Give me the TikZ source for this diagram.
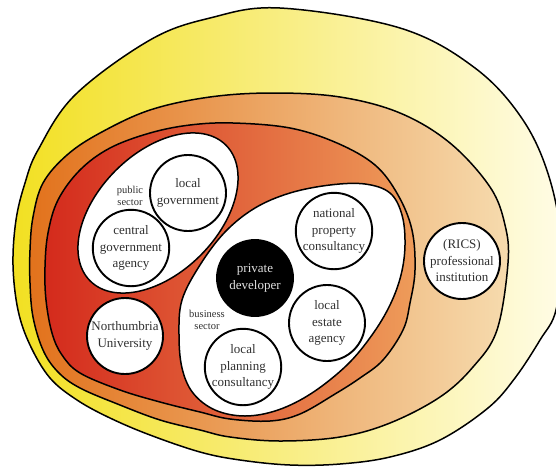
\documentclass[tikz,border=0pt]{standalone}
\usepackage{fontspec}
\setmainfont{Liberation Serif}
\definecolor{yA}{HTML}{F2E022}
\definecolor{yB}{HTML}{F8EE98}
\definecolor{yC}{HTML}{FFFCE6}
\definecolor{oA}{HTML}{E2721C}
\definecolor{oB}{HTML}{EBA05A}
\definecolor{oC}{HTML}{F6DBAE}
\definecolor{rA}{HTML}{D42A1C}
\definecolor{rB}{HTML}{E2582C}
\definecolor{rC}{HTML}{EE9C5A}
\definecolor{txt}{HTML}{303030}
\begin{document}
\begin{tikzpicture}[x=1pt,y=-1pt,
  band/.style={draw=black, line width=1.5pt},
  org/.style={circle, draw=black, line width=1.9pt, fill=white, inner sep=0pt,
    minimum size=76pt, align=center, text=txt, font=\fontsize{13}{16.5}\selectfont},
  tag/.style={align=center, text=txt, font=\fontsize{10.5}{12.5}\selectfont}]
\useasboundingbox (0,0) rectangle (556,466);
\clip (0,0) rectangle (556,466);
\fill[white] (0,0) rectangle (556,466);
% outer ring
\path[band, left color=yA, middle color=yB, right color=yC]
  plot[smooth cycle, tension=0.6] coordinates {
  (280,8) (400,28) (475,68) (523,120) (550,180) (562,250) (556,310) (540,340)
  (515,378) (488,408) (440,440) (390,457) (340,464) (290,465) (240,460)
  (200,452) (150,435) (110,418) (77,400) (50,378) (30,345) (18,310) (13,265)
  (16,220) (25,183) (38,150) (75,95) (150,40) (210,18)};
% second ring
\path[band, left color=oA, middle color=oB, right color=oC]
  plot[smooth cycle, tension=0.6] coordinates {
  (273,93) (340,97) (400,113) (450,143) (490,187) (505,225) (508,263) (497,330)
  (473,367) (440,397) (390,423) (340,437) (280,441) (230,437) (200,430)
  (160,420) (120,405) (80,388) (58,372) (43,350) (33,317) (30,283) (30,250)
  (33,217) (43,183) (67,155) (100,133) (150,110) (210,97)};
% third ring
\path[band, left color=rA, middle color=rB, right color=rC]
  plot[smooth cycle, tension=0.6] coordinates {
  (233,123) (290,128) (337,143) (375,165) (398,195) (412,230) (415,270)
  (410,303) (403,330) (383,360) (360,378) (335,394) (300,414) (270,421)
  (230,419) (200,412) (160,402) (120,390) (80,373) (62,355) (52,333)
  (46,300) (45,267) (48,233) (58,200) (80,170) (110,148) (150,133) (190,125)};
% public sector
\draw[band, fill=white, shift={(158,213)}, rotate=45]
  (0,0) ellipse [x radius=96, y radius=60];
% business sector
\path[band, fill=white] plot[smooth cycle, tension=0.6] coordinates {
  (182,300) (200,265) (225,232) (255,208) (290,193) (330,185) (365,184)
  (390,193) (402,215) (405,245) (401,275) (390,305) (372,335) (347,365)
  (312,393) (278,410) (245,416) (215,410) (193,393) (182,368) (179,335)};
% organisations
\node[org] (lg) at (188,193) {local\\government};
\node[org] (cg) at (131,248) {central\\government\\agency};
\node[org] (nu) at (125,336) {Northumbria\\University};
\node[org, fill=black, text=white!88!black] (pd) at (255,278) {private\\developer};
\node[org] (np) at (334,231) {national\\property\\consultancy};
\node[org] (le) at (327,323) {local\\estate\\agency};
\node[org] (lp) at (243,367) {local\\planning\\consultancy};
\node[org] (ri) at (462,261) {(RICS)\\professional\\institution};
\node[tag] (ps) at (130,196) {public\\sector};
\node[tag] (bs) at (207,320) {business\\sector};
\end{tikzpicture}
\end{document}
